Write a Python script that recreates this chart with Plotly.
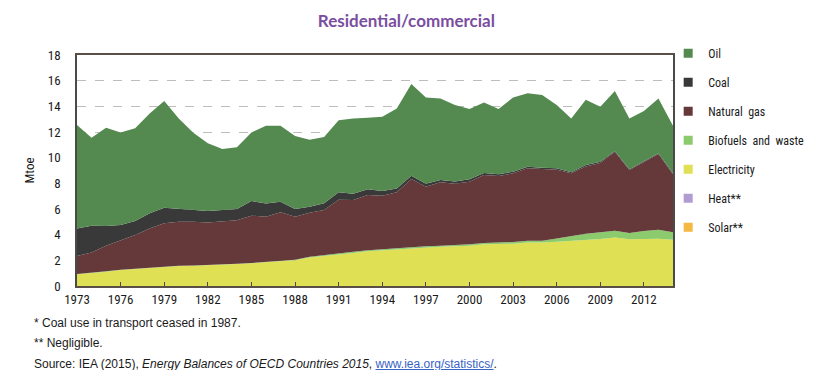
import plotly.graph_objects as go

years = list(range(1973, 2015))

electricity = [0.91, 0.99, 1.12, 1.25, 1.32, 1.43, 1.51, 1.56, 1.58, 1.61, 1.66, 1.71, 1.77, 1.84,
               1.95, 2.00, 2.22, 2.35, 2.50, 2.58, 2.70, 2.78, 2.83, 2.94, 2.99, 3.06, 3.09, 3.14,
               3.25, 3.27, 3.30, 3.38, 3.38, 3.45, 3.51, 3.58, 3.66, 3.77, 3.64, 3.66, 3.69, 3.61]
biofuels = [0.02, 0.02, 0.02, 0.02, 0.02, 0.02, 0.02, 0.02, 0.02, 0.02, 0.02, 0.02, 0.02, 0.02,
            0.02, 0.05, 0.06, 0.07, 0.07, 0.08, 0.08, 0.08, 0.10, 0.12, 0.10, 0.08, 0.10, 0.12,
            0.10, 0.11, 0.13, 0.15, 0.15, 0.26, 0.41, 0.50, 0.52, 0.54, 0.49, 0.63, 0.70, 0.57]
natural_gas = [1.41, 1.61, 2.00, 2.31, 2.63, 3.04, 3.35, 3.43, 3.41, 3.31, 3.33, 3.39, 3.69, 3.54,
               3.77, 3.35, 3.43, 3.50, 4.16, 4.04, 4.31, 4.18, 4.37, 5.28, 4.65, 4.94, 4.78, 4.87,
               5.30, 5.19, 5.35, 5.64, 5.59, 5.35, 4.86, 5.24, 5.40, 6.16, 4.91, 5.35, 5.90, 4.52]
coal = [2.15, 2.08, 1.54, 1.17, 1.09, 1.17, 1.22, 0.99, 0.91, 0.90, 0.91, 0.88, 1.14, 1.02,
        0.83, 0.60, 0.47, 0.52, 0.57, 0.49, 0.44, 0.36, 0.30, 0.25, 0.22, 0.18, 0.18, 0.18,
        0.15, 0.13, 0.13, 0.13, 0.10, 0.11, 0.08, 0.11, 0.11, 0.05, 0.05, 0.05, 0.05, 0.08]
oil = [8.06, 6.86, 7.66, 7.22, 7.23, 7.79, 8.32, 7.06, 6.03, 5.28, 4.76, 4.81, 5.35, 6.07,
       5.92, 5.69, 5.22, 5.17, 5.61, 5.87, 5.59, 5.78, 6.24, 7.15, 6.72, 6.36, 5.95, 5.48,
       5.49, 5.09, 5.77, 5.71, 5.66, 4.93, 4.20, 5.09, 4.28, 4.68, 3.97, 3.95, 4.28, 3.71]
heat = [0.0] * len(years)
solar = [0.0] * len(years)

xtick_years = list(range(1973, 2013, 3))
ytick_vals = list(range(0, 19, 2))

# (name, values, colour, legend rank) in stacking order bottom -> top
series = [
    ("Solar**", solar, "#F4B942", 7),
    ("Heat**", heat, "#B19CD1", 6),
    ("Electricity", electricity, "#DFE054", 5),
    ("Biofuels  and  waste", biofuels, "#8BCB6E", 4),
    ("Natural  gas", natural_gas, "#65383A", 3),
    ("Coal", coal, "#3A393A", 2),
    ("Oil", oil, "#548A50", 1),
]

W, H = 813, 370
L, R, T, B = 69, 687, 47, 278

fig = go.Figure()
for name, vals, col, rank in series:
    fig.add_trace(go.Scatter(
        x=years, y=vals, name=name, stackgroup="one", mode="lines",
        line=dict(width=0, color=col), fillcolor=col,
        showlegend=False, hoverinfo="x+y+name",
    ))
# legend entries as small squares
for name, vals, col, rank in series:
    fig.add_trace(go.Scatter(
        x=[None], y=[None], name=name, mode="markers",
        marker=dict(symbol="square", size=9, color=col),
        legendrank=rank, legendgroup=name, showlegend=True,
    ))

narrow = "Liberation Sans Narrow, Roboto Condensed, DejaVu Sans Condensed, Arial Narrow, sans-serif"
tickfont = dict(family=narrow, size=13, color="#1a1a1a")

def px(x):
    return (x - L) / (R - L)

def py(y):
    return (B - y) / (B - T)

fig.update_layout(
    width=W, height=H,
    margin=dict(l=L, r=W - R, t=T, b=H - B),
    paper_bgcolor="white", plot_bgcolor="white",
    showlegend=True,
    legend=dict(x=px(682), xanchor="left", y=1.07, yanchor="top",
                font=dict(family=narrow, size=12, color="#1a1a1a"),
                traceorder="grouped", tracegroupgap=10, maxheight=330,
                itemwidth=30, bgcolor="rgba(0,0,0,0)"),
    xaxis=dict(range=[1973, 2014], tickvals=xtick_years, ticktext=[str(y) for y in xtick_years],
               ticks="inside", ticklen=4, tickcolor="#4a4a4a", tickfont=tickfont,
               ticklabelstandoff=1,
               showline=True, linecolor="#5a4f45", linewidth=1.5, mirror=True,
               showgrid=False, zeroline=False),
    yaxis=dict(range=[0, 18], tickvals=ytick_vals, tickfont=tickfont,
               ticks="", ticklabelstandoff=12,
               showline=True, linecolor="#4a4a4a", linewidth=1.5, mirror=True,
               showgrid=True, gridcolor="#BDBDBD", griddash="dash", gridwidth=1,
               zeroline=False,
               title=dict(text="Mtoe", font=tickfont, standoff=10)),
    title=dict(text="<b>Residential/commercial</b>", x=0.49, xanchor="center",
               y=1 - 13 / H, yanchor="middle",
               font=dict(family="Lato, Open Sans, sans-serif", size=17, color="#7A4E9F")),
)

note_font = dict(family="Liberation Sans, Arial, sans-serif", size=12, color="#1a1a1a")
notes = [
    ("* Coal use in transport ceased in 1987.", 315),
    ("** Negligible.", 335),
    ("Source: IEA (2015), <i>Energy Balances of OECD Countries 2015</i>, "
     "<span style='color:#3763C4'><u>www.iea.org/statistics/</u></span>.", 356),
]
for text, ypix in notes:
    fig.add_annotation(text=text, xref="paper", yref="paper", x=px(22), y=py(ypix),
                       xanchor="left", yanchor="middle", showarrow=False, font=note_font)

fig.write_html("out.html")
